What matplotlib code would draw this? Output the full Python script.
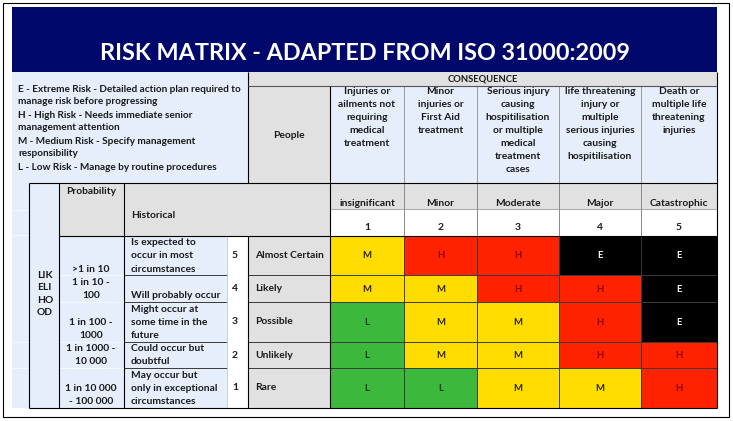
import numpy as np
import matplotlib.pyplot as plt
from matplotlib.patches import Rectangle

plt.rcParams['font.family'] = ['Lato', 'DejaVu Sans']

title = 'RISK MATRIX - ADAPTED FROM ISO 31000:2009'
legend_lines = ['E - Extreme Risk - Detailed action plan required to',
                'manage risk before progressing',
                'H - High Risk - Needs immediate senior',
                'management attention',
                'M - Medium Risk - Specify management',
                'responsibility',
                'L - Low Risk - Manage by routine procedures']
consequence_desc = ['Injuries or\nailments not\nrequiring\nmedical\ntreatment',
                    'Minor\ninjuries or\nFirst Aid\ntreatment',
                    'Serious injury\ncausing\nhospitilisation\nor multiple\nmedical\ntreatment\ncases',
                    'life threatening\ninjury or\nmultiple\nserious injuries\ncausing\nhospitilisation',
                    'Death or\nmultiple life\nthreatening\ninjuries']
consequence_names = ['insignificant', 'Minor', 'Moderate', 'Major', 'Catastrophic']
consequence_scores = [1, 2, 3, 4, 5]
likelihood_names = ['Almost Certain', 'Likely', 'Possible', 'Unlikely', 'Rare']
likelihood_scores = [5, 4, 3, 2, 1]
probability = ['>1 in 10', '1 in 10 -\n100', '1 in 100 -\n1000',
               '1 in 1000 -\n10 000', '1 in 10 000\n- 100 000']
historical = ['Is expected to\noccur in most\ncircumstances',
              'Will probably occur',
              'Might occur at\nsome time in the\nfuture',
              'Could occur but\ndoubtful',
              'May occur but\nonly in exceptional\ncircumstances']
ratings = [['M', 'H', 'H', 'E', 'E'],
           ['M', 'M', 'H', 'H', 'E'],
           ['L', 'M', 'M', 'H', 'E'],
           ['L', 'M', 'M', 'H', 'H'],
           ['L', 'L', 'M', 'M', 'H']]

fill = {'E': '#000000', 'H': '#ff2200', 'M': '#ffdd00', 'L': '#3cb83c'}
ink = {'E': '#ffffff', 'H': '#8a0000', 'M': '#2e2600', 'L': '#1a331a'}
NAVY = '#00086b'
BLUE = '#e6eefb'
GRAY = '#e1e1e1'

W, H = 733, 421
fig = plt.figure(figsize=(W / 100, H / 100), dpi=100)
ax = fig.add_axes([0, 0, 1, 1])
ax.set_xlim(0, W)
ax.set_ylim(H, 0)
ax.axis('off')

col_x = [330, 404, 477, 559, 641, 717]
row_y = [236, 275, 302, 342, 368, 408]
FS = 7.4


def box(x0, y0, x1, y1, fc, ec='none', lw=0.7):
    ax.add_patch(Rectangle((x0, y0), x1 - x0, y1 - y0, fc=fc, ec=ec, lw=lw))


def line(xs, ys, c='#000000', lw=0.8):
    ax.plot(xs, ys, color=c, lw=lw, solid_capstyle='butt')


def txt(x, y, s, ha='center', va='center', fs=FS, c='#1a1a1a', ls=1.58, **kw):
    ax.text(x, y, s, ha=ha, va=va, fontsize=fs, color=c, fontweight='bold',
            linespacing=ls, **kw)


# outer frame and title band
box(3, 3, 729, 417, 'white', '#000000', 0.8)
box(12, 7, 717, 72, NAVY)
txt(365, 53, title, fs=16.8, c='white')

# legend block
box(12, 72, 248, 183, BLUE)
for i, s in enumerate(legend_lines):
    txt(18, 89 + 13 * i, s, ha='left', fs=7.2)

# consequence header
box(248, 72, 717, 86, GRAY)
txt(483, 79, 'CONSEQUENCE', fs=6.8)
box(248, 86, 330, 183, GRAY)
txt(289, 135, 'People')
for j, s in enumerate(consequence_desc):
    box(col_x[j], 86, col_x[j + 1], 183, BLUE)
    txt((col_x[j] + col_x[j + 1]) / 2, 87, s, va='top')
for j in range(5):
    box(col_x[j], 183, col_x[j + 1], 209, GRAY)
    txt((col_x[j] + col_x[j + 1]) / 2, 203, consequence_names[j])
    box(col_x[j], 209, col_x[j + 1], 236, 'white')
    txt((col_x[j] + col_x[j + 1]) / 2, 228, str(consequence_scores[j]))

# likelihood side
box(12, 183, 29, 408, BLUE)
for yy in [210, 235, 342, 368]:
    line([12, 29], [yy, yy], c='#f4f8ff', lw=0.7)
box(29, 183, 59, 408, BLUE)
txt(37, 294, 'LIK\nELI\nHO\nOD', ha='left', ls=1.5)
box(59, 183, 124, 236, GRAY)
txt(91, 191, 'Probability')
box(124, 183, 330, 236, GRAY)
txt(131, 216, 'Historical', ha='left')

for i in range(5):
    y0, y1 = row_y[i], row_y[i + 1]
    box(59, y0, 124, y1, BLUE)
    txt(91, y1 - 1.5, probability[i], va='bottom')
    box(124, y0, 227, y1, BLUE)
    txt(131, y1 - 1.5, historical[i], ha='left', va='bottom')
    box(227, y0, 248, y1, 'white')
    txt(235, (y0 + y1) / 2, str(likelihood_scores[i]))
    box(248, y0, 330, y1, GRAY)
    txt(255, (y0 + y1) / 2, likelihood_names[i], ha='left')
    for j in range(5):
        r = ratings[i][j]
        box(col_x[j], y0, col_x[j + 1], y1, fill[r])
        txt((col_x[j] + col_x[j + 1]) / 2, (y0 + y1) / 2 + 0.5, r,
            fs=6.8, c=ink[r])

# grid lines
for x in col_x[1:-1]:
    line([x, x], [86, 183], c='#9a9a9a', lw=0.7)
    line([x, x], [183, 236], c='#8a8a8a', lw=0.7)
    line([x, x], [236, 408], c='#3a3a3a', lw=0.7)
for y in row_y[1:-1]:
    line([59, 124], [y, y], c='#f4f8ff', lw=0.8)
    line([124, 227], [y, y], c='#3a3a3a', lw=0.7)
    line([248, 330], [y, y], c='#3a3a3a', lw=0.7)
    line([330, 717], [y, y], c='#3a3a3a', lw=0.7)
line([227, 227], [236, 408], c='#c8c8c8', lw=0.6)
line([330, 717], [209, 209], c='#9a9a9a', lw=0.6)

line([248, 248], [72, 183])
line([248, 717], [86, 86], c='#555555')
line([330, 330], [86, 408])
line([717, 717], [72, 408])
line([29, 717], [183, 183])
line([59, 717], [236, 236])
line([29, 717], [408, 408])
for x in [29, 59, 124]:
    line([x, x], [183, 408])
line([248, 248], [236, 408])

fig.savefig('out.png', dpi=100)
